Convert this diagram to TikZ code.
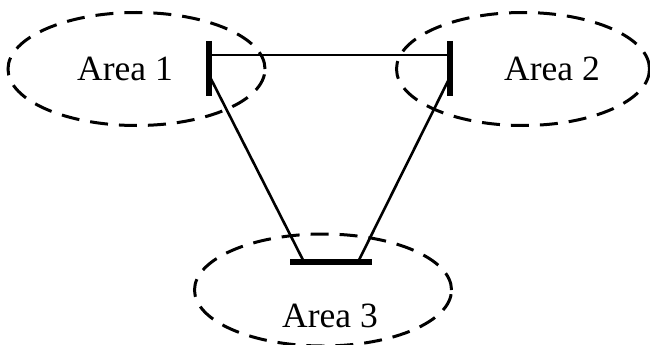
\documentclass[tikz,border=0pt]{standalone}
\usepackage{fontspec}
\setmainfont{Liberation Serif}
\usetikzlibrary{shapes.geometric}
\begin{document}
\begin{tikzpicture}[x=1pt,y=-1pt,
  area/.style={ellipse, draw, line width=3pt, dash pattern=on 18pt off 11pt, inner sep=0pt},
  lbl/.style={font=\fontsize{35.5}{40}\selectfont, inner sep=0pt},
  busbar/.style={line width=5.5pt},
  link/.style={line width=2.6pt}]
\useasboundingbox (0,0) rectangle (650,345);
\node[area, minimum width=257pt, minimum height=113pt] (e1) at (136.5,69) {};
\node[area, minimum width=253pt, minimum height=113pt] (e2) at (523,69) {};
\node[area, minimum width=257pt, minimum height=112pt] (e3) at (323,290) {};
\node[lbl] (t1) at (125,69) {Area 1};
\node[lbl] (t2) at (552,69) {Area 2};
\node[lbl] (t3) at (330,316) {Area 3};
% buses
\coordinate (b1t) at (209,41); \coordinate (b1b) at (209,96);
\coordinate (b2t) at (450,41); \coordinate (b2b) at (450,96);
\coordinate (b3l) at (290,262); \coordinate (b3r) at (372,262);
\draw[busbar] (b1t) -- (b1b);
\draw[busbar] (b2t) -- (b2b);
\draw[busbar] (b3l) -- (b3r);
% link endpoints
\coordinate (p1h) at (209,55); \coordinate (p2h) at (450,55);
\coordinate (p1d) at (210,77); \coordinate (p2d) at (450,77);
\coordinate (p3l) at (304,262); \coordinate (p3r) at (358,262);
\draw[link] (p1h) -- (p2h);
\draw[link] (p1d) -- (p3l);
\draw[link] (p2d) -- (p3r);
\end{tikzpicture}
\end{document}
